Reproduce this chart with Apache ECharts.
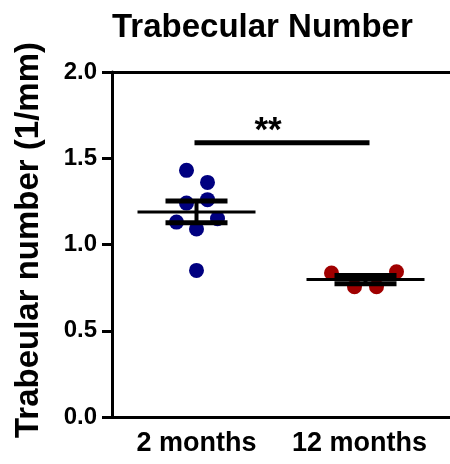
<!DOCTYPE html>
<html>
<head>
<meta charset="utf-8">
<script src="https://cdn.jsdelivr.net/npm/echarts@6/dist/echarts.min.js"></script>
<style>
html,body{margin:0;padding:0;background:#fff;}
#chart{width:450px;height:464px;}
</style>
</head>
<body>
<div id="chart"></div>
<script>
// ---- data ----
const categories = ['2 months', '12 months'];
const group2Months = [1.43, 1.36, 1.26, 1.24, 1.13, 1.15, 1.09, 0.85];
const group12Months = [0.835, 0.755, 0.755, 0.842];
const yTicks = [0, 0.5, 1.0, 1.5, 2.0];
const significanceLevel = 1.59;
const significanceText = '**';
const titleText = 'Trabecular Number';
const yAxisTitle = 'Trabeular number (1/mm)';

// ---- styles ----
const FONT = "'Liberation Sans', Arial, sans-serif";
const colors = ['#000080', '#a00000'];
const jitter = [[-10, 11, 11, -10, -20, 21, 0, 0], [-34, -11, 11, 31]];
const groups = [group2Months, group12Months];

function mean(a) { return a.reduce((s, v) => s + v, 0) / a.length; }
function sem(a) {
  const m = mean(a);
  const v = a.reduce((s, x) => s + (x - m) * (x - m), 0) / (a.length - 1);
  return Math.sqrt(v) / Math.sqrt(a.length);
}
const stats = groups.map((g, i) => [i, mean(g), sem(g)]);

const scatterSeries = groups.map((g, gi) => ({
  type: 'scatter',
  symbolSize: 15,
  itemStyle: { color: colors[gi], opacity: 1 },
  z: 2,
  data: g.map((v, k) => ({ value: [gi, v], symbolOffset: [jitter[gi][k], 0] }))
}));

const chart = echarts.init(document.getElementById('chart'), null, { renderer: 'canvas' });
chart.setOption({
  animation: false,
  backgroundColor: '#fff',
  textStyle: { fontFamily: FONT },
  title: {
    text: titleText,
    left: 107,
    top: 6,
    textStyle: { fontFamily: FONT, fontSize: 33, fontWeight: 'bold', color: '#000' }
  },
  grid: { left: 112, top: 72, width: 344, height: 345, containLabel: false },
  xAxis: [{
    type: 'category',
    data: categories,
    boundaryGap: true,
    position: 'bottom',
    axisLine: { lineStyle: { color: '#000', width: 3 } },
    axisTick: { show: false },
    axisLabel: {
      interval: 0,
      color: '#000', fontSize: 27, fontWeight: 'bold', fontFamily: FONT, margin: 13,
      formatter: (v, i) => i === 1 ? '{r|' + v + '}' : v,
      rich: { r: { fontSize: 27, fontWeight: 'bold', fontFamily: FONT, color: '#000', padding: [0, 12, 0, 0] } }
    }
  }, {
    type: 'category',
    data: categories,
    position: 'top',
    axisLine: { lineStyle: { color: '#000', width: 3 } },
    axisTick: { show: false },
    axisLabel: { show: false }
  }],
  yAxis: {
    type: 'value',
    min: yTicks[0],
    max: yTicks[yTicks.length - 1],
    interval: 0.5,
    name: yAxisTitle,
    nameLocation: 'middle',
    nameGap: 67,
    nameTextStyle: { fontSize: 33, fontWeight: 'bold', color: '#000', fontFamily: FONT, padding: [0, 0, 0, 9] },
    axisLine: { show: true, lineStyle: { color: '#000', width: 3 } },
    axisTick: { show: true, length: 10, lineStyle: { color: '#000', width: 3 } },
    splitLine: { show: false },
    axisLabel: {
      color: '#000', fontSize: 24, fontWeight: 'bold', fontFamily: FONT, margin: 15,
      formatter: v => v.toFixed(1)
    }
  },
  series: scatterSeries.concat([{
    type: 'custom',
    z: 5,
    data: stats,
    renderItem: function (params, api) {
      const c = api.value(0), m = api.value(1), s = api.value(2);
      const pm = api.coord([c, m]);
      const pHi = api.coord([c, m + s]);
      const pLo = api.coord([c, m - s]);
      const x = pm[0];
      const mw = 59, cw = 31;
      const st = { stroke: '#000', lineWidth: 5 };
      return {
        type: 'group',
        children: [
          { type: 'line', shape: { x1: x - mw, y1: pm[1], x2: x + mw, y2: pm[1] }, style: { stroke: '#000', lineWidth: 3 } },
          { type: 'line', shape: { x1: x, y1: pHi[1], x2: x, y2: pLo[1] }, style: { stroke: '#000', lineWidth: 4 } },
          { type: 'line', shape: { x1: x - cw, y1: pHi[1], x2: x + cw, y2: pHi[1] }, style: st },
          { type: 'line', shape: { x1: x - cw, y1: pLo[1], x2: x + cw, y2: pLo[1] }, style: st }
        ]
      };
    }
  }, {
    type: 'custom',
    z: 5,
    data: [[0, 1, significanceLevel]],
    renderItem: function (params, api) {
      const a = api.coord([api.value(0), api.value(2)]);
      const b = api.coord([api.value(1), api.value(2)]);
      return {
        type: 'group',
        children: [
          { type: 'line', shape: { x1: a[0] - 2, y1: a[1], x2: b[0] + 4, y2: b[1] }, style: { stroke: '#000', lineWidth: 5 } },
          { type: 'text', x: (a[0] + b[0]) / 2 - 13, y: a[1] + 6,
            style: { text: significanceText, fontSize: 35, fontWeight: 'bold', fontFamily: FONT, fill: '#000', align: 'center', verticalAlign: 'bottom' } }
        ]
      };
    }
  }])
});
</script>
</body>
</html>
